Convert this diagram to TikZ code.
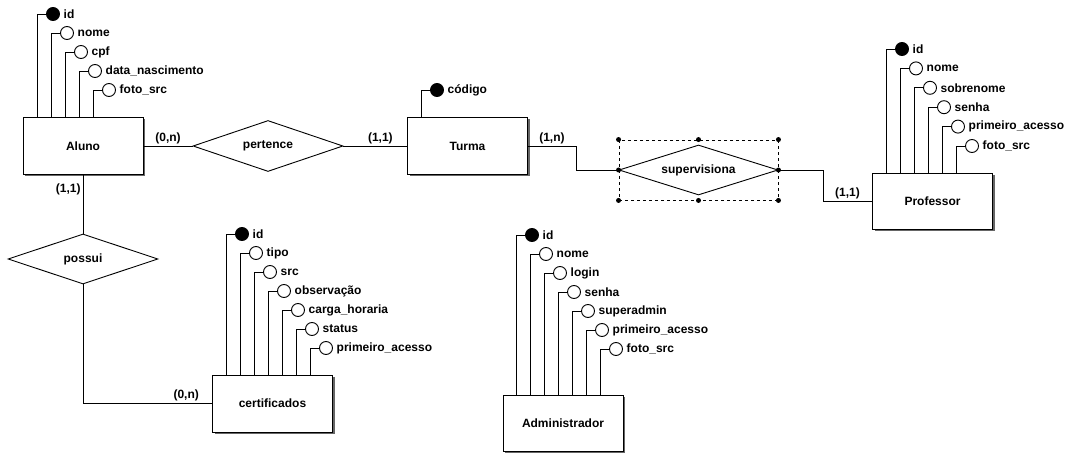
\documentclass[tikz,border=0pt]{standalone}
\usepackage{fontspec}
\setmainfont{Liberation Sans}
\usepackage{tikz}
\usetikzlibrary{positioning, shapes.geometric, shadows}
\tikzstyle{ent}= [rectangle, draw, fill=white, inner sep=0pt, minimum width=120pt, minimum height=57pt, drop shadow={shadow xshift=2pt, shadow yshift=-2pt, fill=black!60, opacity=1}]
\tikzstyle{rel}= [diamond, draw, fill=white, aspect=3, inner sep=0pt]
\tikzstyle{atrib}= [circle, draw, fill=white, inner sep=0pt, minimum size=13pt, label distance=0pt]
\tikzstyle{chave}= [atrib, fill=black]
\tikzstyle{card}= [inner sep=2pt]
\tikzstyle{selec}= [rectangle, draw, dashed, inner sep=0pt]

\begin{document}
\begin{tikzpicture}[x=1pt, y=-1pt, line width=0.9pt, font=\fontsize{12}{14}\selectfont\bfseries]
				\useasboundingbox (0,0) rectangle (1076,457);

				\node[ent] (aluno) at (83, 146) {Aluno};
				\node[ent] (turma) at (467.5, 146) {Turma};
				\node[ent, minimum height=56pt] (professor) at (932.5, 201) {Professor};
				\node[ent] (certificados) at (272.5, 403.5) {certificados};
				\node[ent, minimum height=56pt] (administrador) at (563, 423) {Administrador};

				\node[selec, minimum width=159pt, minimum height=60pt] (sel) at (698.5, 170) {};
				\node[rel, minimum width=150pt, minimum height=51pt] (pertence) at (268, 146) {pertence};
				\node[rel, minimum width=150pt, minimum height=50pt] (possui) at (83, 259) {possui};
				\node[rel, minimum width=159pt, minimum height=50pt] (supervisiona) at (698.5, 170) {supervisiona};
				\foreach \a in {north west, north, north east, west, east, south west, south, south east}
					\fill (sel.\a) circle (2.5pt);

				\node[chave, label=right:id] (al1) at (53, 14) {};
				\node[atrib, label=right:nome] (al2) at (67, 33) {};
				\node[atrib, label=right:cpf] (al3) at (81, 52) {};
				\node[atrib, label=right:data\_nascimento] (al4) at (95, 71) {};
				\node[atrib, label=right:foto\_src] (al5) at (109, 90) {};

				\node[chave, label=right:código] (tu1) at (437, 90) {};

				\node[chave, label=right:id] (pr1) at (902, 49) {};
				\node[atrib, label=right:nome] (pr2) at (916, 68.4) {};
				\node[atrib, label=right:sobrenome] (pr3) at (930, 87.8) {};
				\node[atrib, label=right:senha] (pr4) at (944, 107.2) {};
				\node[atrib, label=right:primeiro\_acesso] (pr5) at (958, 126.6) {};
				\node[atrib, label=right:foto\_src] (pr6) at (972, 146) {};

				\node[chave, label=right:id] (ce1) at (242, 234) {};
				\node[atrib, label=right:tipo] (ce2) at (256, 253) {};
				\node[atrib, label=right:src] (ce3) at (270, 272) {};
				\node[atrib, label=right:observação] (ce4) at (284, 291) {};
				\node[atrib, label=right:carga\_horaria] (ce5) at (298, 310) {};
				\node[atrib, label=right:status] (ce6) at (312, 329) {};
				\node[atrib, label=right:primeiro\_acesso] (ce7) at (326, 348) {};

				\node[chave, label=right:id] (ad1) at (532, 235) {};
				\node[atrib, label=right:nome] (ad2) at (546, 254) {};
				\node[atrib, label=right:login] (ad3) at (560, 273) {};
				\node[atrib, label=right:senha] (ad4) at (574, 292) {};
				\node[atrib, label=right:superadmin] (ad5) at (588, 311) {};
				\node[atrib, label=right:primeiro\_acesso] (ad6) at (602, 330) {};
				\node[atrib, label=right:foto\_src] (ad7) at (616, 349) {};

				\draw(al1) -| ([xshift=15pt]aluno.north west);
				\draw(al2) -| ([xshift=29pt]aluno.north west);
				\draw(al3) -| ([xshift=43pt]aluno.north west);
				\draw(al4) -| ([xshift=57pt]aluno.north west);
				\draw(al5) -| ([xshift=71pt]aluno.north west);

				\draw(tu1) -| ([xshift=14pt]turma.north west);

				\draw(pr1) -| ([xshift=14pt]professor.north west);
				\draw(pr2) -| ([xshift=28pt]professor.north west);
				\draw(pr3) -| ([xshift=42pt]professor.north west);
				\draw(pr4) -| ([xshift=56pt]professor.north west);
				\draw(pr5) -| ([xshift=70pt]professor.north west);
				\draw(pr6) -| ([xshift=84pt]professor.north west);

				\draw(ce1) -| ([xshift=14pt]certificados.north west);
				\draw(ce2) -| ([xshift=28pt]certificados.north west);
				\draw(ce3) -| ([xshift=42pt]certificados.north west);
				\draw(ce4) -| ([xshift=56pt]certificados.north west);
				\draw(ce5) -| ([xshift=70pt]certificados.north west);
				\draw(ce6) -| ([xshift=84pt]certificados.north west);
				\draw(ce7) -| ([xshift=98pt]certificados.north west);

				\draw(ad1) -| ([xshift=14pt]administrador.north west);
				\draw(ad2) -| ([xshift=28pt]administrador.north west);
				\draw(ad3) -| ([xshift=42pt]administrador.north west);
				\draw(ad4) -| ([xshift=56pt]administrador.north west);
				\draw(ad5) -| ([xshift=70pt]administrador.north west);
				\draw(ad6) -| ([xshift=84pt]administrador.north west);
				\draw(ad7) -| ([xshift=98pt]administrador.north west);

				\draw(aluno) -- node[card, above]{(0,n)} (pertence);
				\draw(pertence) -- node[card, above, pos=0.58]{(1,1)} (turma);
				\draw(turma.east) -- node[card, above]{(1,n)} (turma.east -| 576,0) |- (supervisiona.west);
				\draw(supervisiona.east) -- (supervisiona.east -| 823,0) |- node[card, above, pos=0.75]{(1,1)} (professor.west);
				\draw(aluno) -- node[card, left, pos=0.25]{(1,1)} (possui);
				\draw(possui) |- node[card, above, pos=0.9]{(0,n)} (certificados);
			\end{tikzpicture}
\end{document}
